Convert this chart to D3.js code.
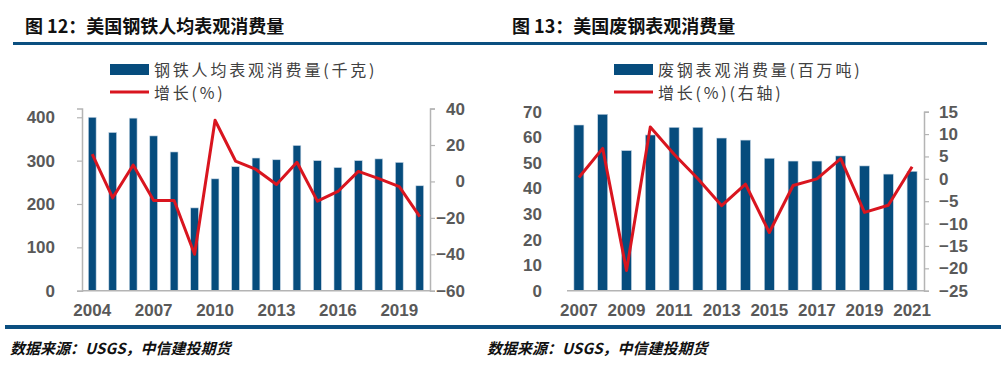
<!DOCTYPE html>
<html>
<head>
<meta charset="utf-8">
<script src="https://cdn.jsdelivr.net/npm/d3@7"></script>
<style>
  body { margin: 0; background: #fff; }
  svg { display: block; }
</style>
</head>
<body>
<svg id="chart" width="1006" height="373"></svg>
<script>
// 图12 美国钢铁人均表观消费量
var yearsA = ["2004","2005","2006","2007","2008","2009","2010","2011","2012","2013","2014","2015","2016","2017","2018","2019","2020"];
var steelPerCap = [400, 365, 398, 357, 320, 191, 258, 286, 306, 302, 335, 300, 284, 300, 304, 296, 242];
var steelGrowth = [15, -9, 9, -10.5, -10.5, -40, 33.6, 11.2, 6.6, -1.7, 10.5, -10.8, -5.5, 5.5, 1.5, -2.8, -19.3];
var leftTicksA = [0, 100, 200, 300, 400];
var rightTicksA = [40, 20, 0, -20, -40, -60];
var xLabelsA = ["2004","2007","2010","2013","2016","2019"];

// 图13 美国废钢表观消费量
var yearsB = ["2007","2008","2009","2010","2011","2012","2013","2014","2015","2016","2017","2018","2019","2020","2021"];
var scrapUse = [64.8, 69, 54.8, 60.9, 63.9, 63.9, 59.7, 58.9, 51.8, 50.7, 50.7, 52.7, 48.8, 45.6, 46.7];
var scrapGrowth = [0.3, 6.8, -20.5, 11.6, 5.5, 0, -6, -1.2, -12, -1.5, 0, 4.5, -7.5, -5.9, 2.7];
var leftTicksB = [0, 10, 20, 30, 40, 50, 60, 70];
var rightTicksB = [15, 10, 5, 0, -5, -10, -15, -20, -25];
var xLabelsB = ["2007","2009","2011","2013","2015","2017","2019","2021"];

var blue = "#064c7d";
var red = "#d9151f";
var rule = "#0b4f80";
var grey = "#595959";
var axisGrey = "#b4b4b4";
var numFont = "'Liberation Sans', Arial, sans-serif";
var cjkFont = "'Noto Sans CJK SC', sans-serif";

var svg = d3.select("#chart");

function fmt(v) { return v < 0 ? "\u2212" + Math.abs(v) : String(v); }

// titles and rules
svg.append("text").attr("x", 25).attr("y", 33)
  .style("font-family", cjkFont).style("font-weight", "bold").style("font-size", "18px").attr("fill", "#111")
  .text("图 12：美国钢铁人均表观消费量");
svg.append("text").attr("x", 512).attr("y", 33)
  .style("font-family", cjkFont).style("font-weight", "bold").style("font-size", "18px").attr("fill", "#111")
  .text("图 13：美国废钢表观消费量");
svg.append("rect").attr("x", 13).attr("y", 42).attr("width", 974).attr("height", 3).attr("fill", rule);
svg.append("rect").attr("x", 5).attr("y", 325).attr("width", 996).attr("height", 4).attr("fill", rule);

svg.append("text").attr("x", 10).attr("y", 354)
  .style("font-family", cjkFont).style("font-weight", "bold").style("font-style", "italic").style("font-size", "15px").attr("fill", "#111")
  .text("数据来源：USGS，中信建投期货");
svg.append("text").attr("x", 487).attr("y", 354)
  .style("font-family", cjkFont).style("font-weight", "bold").style("font-style", "italic").style("font-size", "15px").attr("fill", "#111")
  .text("数据来源：USGS，中信建投期货");

function drawPanel(cfg) {
  var g = svg.append("g");
  var x = d3.scaleBand().domain(cfg.years).range([cfg.x0, cfg.x1]).paddingInner(cfg.pad).paddingOuter(cfg.pad / 2);
  var yL = d3.scaleLinear().domain(cfg.leftDomain).range([cfg.yBottom, cfg.yTop]);
  var yR = d3.scaleLinear().domain(cfg.rightDomain).range([cfg.yBottom, cfg.yTop]);

  // bars
  g.selectAll("rect.bar").data(cfg.bars).enter().append("rect")
    .attr("class", "bar")
    .attr("x", function(d, i) { return x(cfg.years[i]); })
    .attr("y", function(d) { return yL(d); })
    .attr("width", x.bandwidth())
    .attr("height", function(d) { return yL(0) - yL(d); })
    .attr("fill", blue)
    .attr("stroke", "#c9d8e6").attr("stroke-width", 0.6);

  // left axis
  var la = d3.axisLeft(yL).tickValues(cfg.leftTicks).tickSize(cfg.leftLine ? 5 : 0).tickPadding(cfg.leftPad).tickFormat(fmt);
  var lg = g.append("g").attr("transform", "translate(" + cfg.x0 + ",0)").call(la);
  if (!cfg.leftLine) lg.select(".domain").remove();

  // right axis
  var ra = d3.axisRight(yR).tickValues(cfg.rightTicks).tickSize(5).tickPadding(3).tickFormat(fmt);
  var rg = g.append("g").attr("transform", "translate(" + cfg.x1 + ",0)").call(ra);
  if (cfg.rightAnchor === "end") {
    rg.selectAll("text").attr("text-anchor", "end").attr("x", cfg.rightEnd - cfg.x1);
  } else {
    rg.selectAll("text").attr("x", cfg.rightStart - cfg.x1);
  }

  // bottom axis
  var ba = d3.axisBottom(x).tickValues(cfg.xLabels).tickSize(0).tickPadding(13);
  var bg = g.append("g").attr("transform", "translate(0," + cfg.yBottom + ")").call(ba);
  bg.select(".domain").attr("d", "M" + cfg.x0 + ",0H" + cfg.x1);

  g.selectAll(".domain").attr("stroke", axisGrey).attr("stroke-width", 1.5);
  g.selectAll(".tick line").attr("stroke", axisGrey).attr("stroke-width", 1.2);
  g.selectAll(".tick text").attr("fill", grey)
    .style("font-family", numFont).style("font-size", "17px").style("font-weight", "bold");

  // growth line
  var line = d3.line()
    .x(function(d, i) { return x(cfg.years[i]) + x.bandwidth() / 2; })
    .y(function(d) { return yR(d); });
  g.append("path").datum(cfg.line).attr("d", line)
    .attr("fill", "none").attr("stroke", red).attr("stroke-width", 3).attr("stroke-linejoin", "round");

  // legend
  var lx = cfg.legendX;
  var lgd = g.append("g");
  lgd.append("rect").attr("x", lx).attr("y", 64).attr("width", 39).attr("height", 11).attr("fill", blue);
  lgd.append("line").attr("x1", lx).attr("x2", lx + 39).attr("y1", 92).attr("y2", 92)
    .attr("stroke", red).attr("stroke-width", 3);
  lgd.append("text").attr("x", lx + 44).attr("y", 75.5).text(cfg.legend1);
  lgd.append("text").attr("x", lx + 44).attr("y", 98.5).text(cfg.legend2);
  lgd.selectAll("text")
    .attr("fill", "#404040").style("font-family", cjkFont).style("font-size", "16px").style("letter-spacing", "2.8px");
}

drawPanel({
  years: yearsA, bars: steelPerCap, line: steelGrowth,
  x0: 82, x1: 430, yTop: 108.6, yBottom: 290.7, pad: 0.62,
  leftDomain: [0, 420], rightDomain: [-60, 40],
  leftTicks: leftTicksA, rightTicks: rightTicksA, xLabels: xLabelsA,
  leftLine: true, leftPad: 22, rightAnchor: "end", rightEnd: 465,
  legendX: 110, legend1: "钢铁人均表观消费量(千克)", legend2: "增长(%)"
});

drawPanel({
  years: yearsB, bars: scrapUse, line: scrapGrowth,
  x0: 567, x1: 924, yTop: 111.7, yBottom: 290.7, pad: 0.58,
  leftDomain: [0, 70], rightDomain: [-25, 15],
  leftTicks: leftTicksB, rightTicks: rightTicksB, xLabels: xLabelsB,
  leftLine: false, leftPad: 25, rightAnchor: "start", rightStart: 939,
  legendX: 614, legend1: "废钢表观消费量(百万吨)", legend2: "增长(%)(右轴)"
});
</script>
</body>
</html>
